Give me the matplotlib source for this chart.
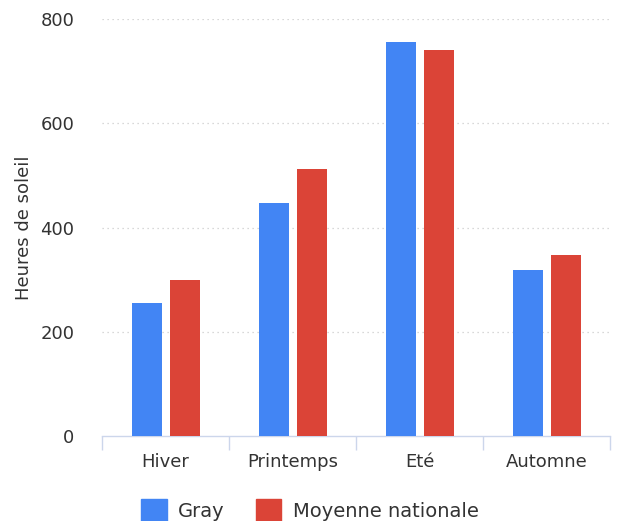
import matplotlib
matplotlib.use("Agg")
import matplotlib.pyplot as plt
import numpy as np
from matplotlib.patches import Patch

categories = ["Hiver", "Printemps", "Eté", "Automne"]
gray_values = [256, 447, 755, 319]
national_values = [299, 513, 740, 348]
series_names = ["Gray", "Moyenne nationale"]
y_ticks = [0, 200, 400, 600, 800]

blue = "#4285f4"
red = "#db4437"

plt.rcParams['font.family'] = ['DejaVu Sans']

fig = plt.figure(figsize=(6.2, 5.21), dpi=100)
ax = fig.add_axes([0.1645, 0.163, 0.8195, 0.8005])

x = np.arange(len(categories))
w = 0.24
ax.bar(x - 0.145, gray_values, width=w, color=blue, zorder=3)
ax.bar(x + 0.155, national_values, width=w, color=red, zorder=3)

ax.set_xlim(-0.5, len(categories) - 0.5)
ax.set_ylim(0, 800)
ax.set_yticks(y_ticks)
ax.set_yticklabels([str(v) for v in y_ticks], fontsize=13, color="#333333")
ax.tick_params(axis='y', length=0, pad=20)
for v in y_ticks[1:]:
    ax.axhline(v, color="#cccccc", linestyle=(0, (1, 3)), linewidth=0.9, zorder=1)

ax.set_xticks(x)
ax.set_xticklabels(categories, fontsize=13, color="#333333")
ax.tick_params(axis='x', length=0, pad=12)
ax.set_xticks(np.arange(len(categories) + 1) - 0.5, minor=True)
ax.tick_params(axis='x', which='minor', length=10, color="#ccd6eb", width=1)

for s in ["top", "right", "left"]:
    ax.spines[s].set_visible(False)
ax.spines["bottom"].set_color("#ccd6eb")
ax.spines["bottom"].set_linewidth(1)

ax.set_ylabel("Heures de soleil", fontsize=13, color="#333333", labelpad=5)

handles = [Patch(color=blue), Patch(color=red)]
fig.legend(handles, series_names, loc="lower center", bbox_to_anchor=(0.5, -0.033),
           ncol=2, frameon=False, fontsize=14, handlelength=1.3, handleheight=1.3,
           columnspacing=1.6, handletextpad=0.6, labelcolor="#333333")

fig.savefig("out.png", dpi=100)
